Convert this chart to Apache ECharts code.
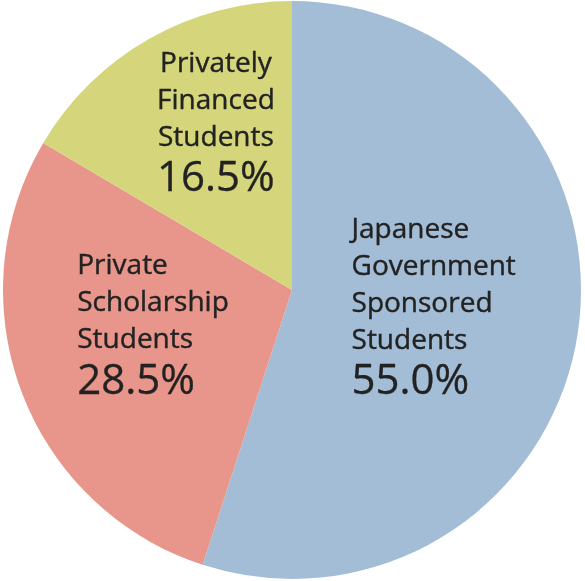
<!DOCTYPE html>
<html>
<head>
<meta charset="utf-8">
<script src="https://cdn.jsdelivr.net/npm/echarts@6/dist/echarts.min.js"></script>
<style>html,body{margin:0;padding:0;background:#fff;}#c{width:585px;height:581px;}</style>
</head>
<body>
<div id="c"></div>
<script>
const categories = ["Japanese\nGovernment\nSponsored\nStudents", "Private\nScholarship\nStudents", "Privately\nFinanced\nStudents"];
const values = [55.0, 28.5, 16.5];
const colors = ["#a4bdd7", "#e8968b", "#d5d67b"];
const labelOffsets = [[-4, -5], [-1, -16], [-3, -38]];
const lineAlign = ["left", "left", "center"];

const chart = echarts.init(document.getElementById('c'));
chart.setOption({
  animation: false,
  series: [{
    type: 'pie',
    center: [292, 290],
    radius: [0, 289],
    startAngle: 90,
    clockwise: true,
    silent: true,
    data: categories.map((name, i) => ({
      name: name,
      value: values[i],
      itemStyle: { color: colors[i] },
      label: {
        offset: labelOffsets[i],
        rich: {
          n: { fontSize: 28, lineHeight: 37, color: '#222', fontFamily: 'Open Sans', align: lineAlign[i], textBorderColor: '#222', textBorderWidth: 0.4 },
          p: { fontSize: 42, lineHeight: 46, color: '#222', fontFamily: 'Open Sans', align: lineAlign[i], textBorderColor: '#222', textBorderWidth: 0.3 }
        }
      }
    })),
    label: {
      show: true,
      position: 'inside',
      formatter: function (p) {
        const lines = p.name.split('\n').map(s => '{n|' + s + '}');
        return lines.join('\n') + '\n{p|' + p.value.toFixed(1) + '%}';
      }
    },
    labelLine: { show: false }
  }]
});
</script>
</body>
</html>
